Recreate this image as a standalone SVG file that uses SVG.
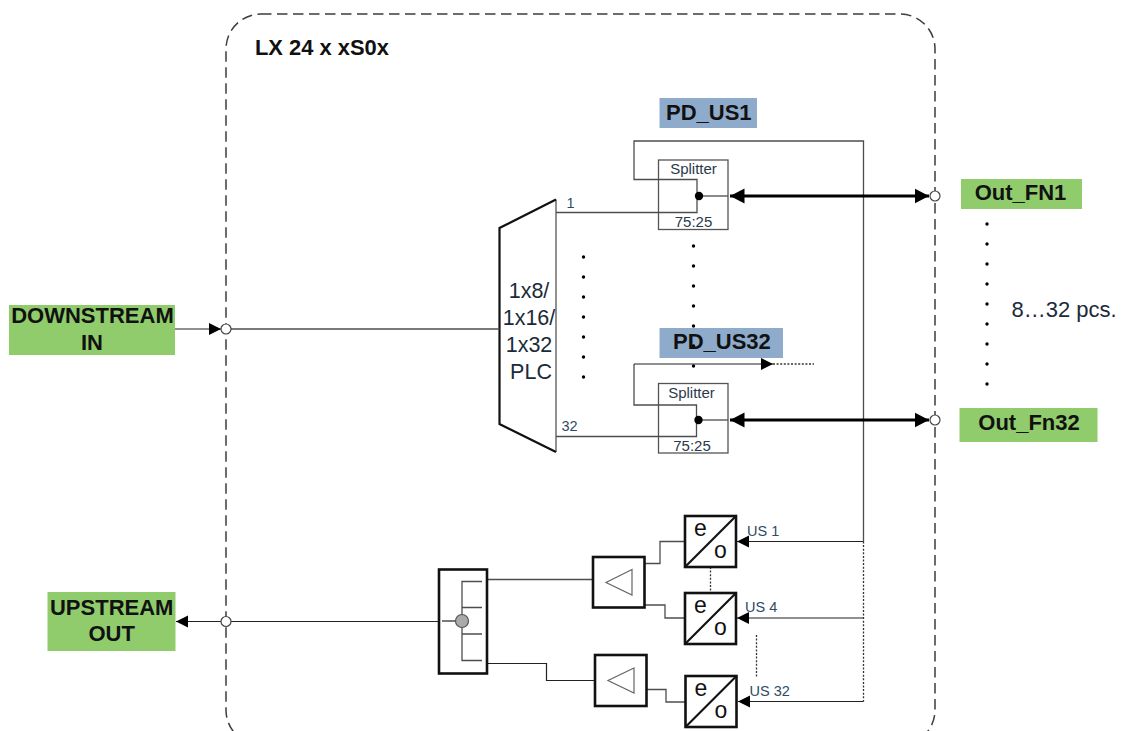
<svg xmlns="http://www.w3.org/2000/svg" width="1122" height="731" viewBox="0 0 1122 731">
<style>
text{font-family:"Liberation Sans",Arial,sans-serif;fill:#111}
.b{font-weight:bold;font-size:22px}
.m{text-anchor:middle}
.green{fill:#90cc6c}
.blue{fill:#8fabcb}
.s{font-size:15px;fill:#2a3a4c}
.u{font-size:14.5px;fill:#2f4a66}
.plc{font-size:21.5px;fill:#1a2a3a;text-anchor:middle}
.eo{font-size:23px;text-anchor:middle}
.thin{fill:none;stroke:#4d4d4d;stroke-width:1.3}
.dark{fill:none;stroke:#222;stroke-width:1.2}
.thick{fill:#fff;stroke:#111;stroke-width:2.6}
.box{fill:#fff;stroke:#555;stroke-width:1.3}
.dot{fill:none;stroke:#333;stroke-width:1.3;stroke-dasharray:2 1.6}
.port{fill:#fff;stroke:#444;stroke-width:1.2}
.bold{fill:none;stroke:#000;stroke-width:3.2;marker-start:url(#big);marker-end:url(#big)}
.arr{fill:none;stroke:#222;stroke-width:1.2;marker-end:url(#small)}
.pt{fill:#000}
</style>
<defs>
<marker id="big" markerUnits="userSpaceOnUse" markerWidth="15" markerHeight="16" refX="14.5" refY="8" orient="auto-start-reverse"><path d="M0 0.5L14.5 8L0 15.5Z" fill="#000"/></marker>
<marker id="small" markerUnits="userSpaceOnUse" markerWidth="13" markerHeight="14" refX="12" refY="6.5" orient="auto"><path d="M0 0.5L12 6.5L0 12.5Z" fill="#000"/></marker>
</defs>
<g id="enclosure">
<rect x="226" y="14" width="709" height="731" rx="35" ry="35" fill="none" stroke="#3d3d3d" stroke-width="1.5" stroke-dasharray="10.5 5.5"/>
<text class="b" x="255" y="55" style="font-size:21.9px">LX 24 x xS0x</text>
</g>
<g id="dots">
<g class="pt">
<circle cx="583.5" cy="257" r="1.7"/><circle cx="583.5" cy="277" r="1.7"/><circle cx="583.5" cy="297" r="1.7"/><circle cx="583.5" cy="317" r="1.7"/><circle cx="583.5" cy="337" r="1.7"/><circle cx="583.5" cy="357" r="1.7"/><circle cx="583.5" cy="377" r="1.7"/>
<circle cx="987" cy="224" r="1.7"/><circle cx="987" cy="244" r="1.7"/><circle cx="987" cy="264" r="1.7"/><circle cx="987" cy="284" r="1.7"/><circle cx="987" cy="304" r="1.7"/><circle cx="987" cy="324" r="1.7"/><circle cx="987" cy="344" r="1.7"/><circle cx="987" cy="364" r="1.7"/><circle cx="987" cy="384" r="1.7"/>
</g>
</g>
<g id="pd-us1">
<rect class="blue" x="659.5" y="98" width="97.5" height="30"/>
<text class="b" x="666" y="119.5">PD_US1</text>
</g>
<g id="pd-us32">
<rect class="blue" x="659.5" y="328" width="123.5" height="30"/>
<g class="pt"><circle cx="693.5" cy="246" r="1.7"/><circle cx="693.5" cy="266" r="1.7"/><circle cx="693.5" cy="286" r="1.7"/><circle cx="693.5" cy="306" r="1.7"/><circle cx="693.5" cy="326" r="1.7"/><circle cx="693.5" cy="346" r="1.7"/><circle cx="693.5" cy="366" r="1.7"/></g>
<text class="b" x="673" y="349">PD_US32</text>
</g>
<g id="splitter1">
<rect class="box" x="658.5" y="160" width="69.5" height="69.5"/>
<text class="s m" x="693.5" y="173.5">Splitter</text>
<text class="s m" x="693.5" y="227">75:25</text>
</g>
<g id="splitter32">
<rect class="box" x="658.5" y="383.5" width="69.5" height="69.5"/>
<text class="s m" x="691.5" y="398">Splitter</text>
<text class="s m" x="692" y="451">75:25</text>
</g>
<g id="plc">
<path d="M556 199.5V452" fill="none" stroke="#555" stroke-width="1.3"/>
<path d="M556 199.5L499.5 228V424L556 452" fill="none" stroke="#111" stroke-width="2.2"/>
<text class="plc" x="529" y="298">1x8/</text>
<text class="plc" x="529" y="325">1x16/</text>
<text class="plc" x="529" y="352">1x32</text>
<text class="plc" x="531" y="379">PLC</text>
<text class="u" x="566.5" y="208">1</text>
<text class="u" x="561.5" y="431">32</text>
</g>
<g id="connectors">
<path class="thin" d="M231 329H499.5"/>
<path class="thin" d="M556 212.5H697V179.5H634V141H863.5V541.5"/>
<path class="thin" d="M699 196H728"/>
<path class="thin" d="M556 436.5H696.5V405H634V364"/>
<path class="arr" d="M634 364H773"/>
<path class="dot" d="M773 364H814"/>
<path class="thin" d="M699 420H728"/>
<path class="bold" d="M730 196H929"/>
<path class="bold" d="M730 420H929"/>
<path class="arr" d="M175 329H221"/>
<path class="arr" d="M221 621.5H176"/>
<path class="dark" d="M231 621.5H440"/>
<path class="arr" d="M863.5 541.5H737"/>
<path class="arr" d="M863.5 618H737"/>
<path class="arr" d="M863.5 701.5H738"/>
<path class="dot" d="M863.5 541.5V701.5"/>
<path class="dot" d="M710.5 567V592.5"/>
<path class="dot" d="M756.5 635V677"/>
<path class="thin" d="M487 579.5H593"/>
<path class="dark" d="M487 663.5H546.5V680.5H595"/>
<path class="thin" d="M645 563.5H660V541.5H685"/>
<path class="thin" d="M645 605H665V618H685"/>
<path class="thin" d="M646.5 689.5H666V702H685.5"/>
</g>
<g id="splitter-junctions"><circle class="pt" cx="699" cy="196" r="4.2"/><circle class="pt" cx="698.5" cy="420" r="4.2"/></g>
<g id="downstream-in">
<rect class="green" x="9" y="305" width="166" height="50"/>
<text class="b m" x="92.5" y="323">DOWNSTREAM</text>
<text class="b m" x="92" y="349.5">IN</text>
</g>
<g id="upstream-out">
<rect class="green" x="47.5" y="592" width="128" height="59"/>
<text class="b m" x="111.7" y="615">UPSTREAM</text>
<text class="b m" x="111.7" y="641">OUT</text>
</g>
<g id="out-fn1">
<rect class="green" x="961" y="179" width="121" height="30"/>
<text class="b m" x="1020.5" y="199.5">Out_FN1</text>
</g>
<g id="out-fn32">
<rect class="green" x="959.5" y="408" width="138" height="34"/>
<text class="b m" x="1029" y="430">Out_Fn32</text>
</g>
<g id="count-label"><text x="1011.5" y="317" style="font-size:22px;fill:#1a2a3a">8…32 pcs.</text></g>
<g id="ports">
<circle class="port" cx="226" cy="329" r="5"/>
<circle class="port" cx="226" cy="621.5" r="5"/>
<circle class="port" cx="935" cy="196" r="5"/>
<circle class="port" cx="935" cy="420" r="5"/>
</g>
<g id="combiner">
<rect class="thick" x="439" y="569.5" width="48" height="104"/>
<path class="thin" d="M442 621H462M482 581.5H462V660.5H482M462 607.5H482M462 634H482"/>
<circle cx="462" cy="621" r="6.5" fill="#aaa" stroke="#555" stroke-width="1.2"/>
</g>
<g id="amp1">
<rect class="thick" x="593" y="557" width="51.5" height="50.5"/>
<path d="M632 569.5L606 582.5L632 595Z" fill="none" stroke="#666" stroke-width="1.2"/>
</g>
<g id="amp2">
<rect class="thick" x="595" y="655" width="51.5" height="51"/>
<path d="M634 668L608 680.5L634 693Z" fill="none" stroke="#666" stroke-width="1.2"/>
</g>
<g id="eo1">
<rect class="thick" x="685" y="516" width="51" height="51"/>
<path d="M685 567L736 516" stroke="#111" stroke-width="2.2"/>
<text class="eo" x="700.5" y="536">e</text><text class="eo" x="720.5" y="557.5">o</text>
<text class="u" x="747" y="536">US 1</text>
</g>
<g id="eo4">
<rect class="thick" x="685" y="593" width="51" height="51"/>
<path d="M685 644L736 593" stroke="#111" stroke-width="2.2"/>
<text class="eo" x="700.5" y="613">e</text><text class="eo" x="720.5" y="634.5">o</text>
<text class="u" x="745" y="612">US 4</text>
</g>
<g id="eo32">
<rect class="thick" x="685.5" y="676" width="51" height="51"/>
<path d="M685.5 727L736.5 676" stroke="#111" stroke-width="2.2"/>
<text class="eo" x="701" y="696">e</text><text class="eo" x="721" y="717.5">o</text>
<text class="u" x="749.5" y="696">US 32</text>
</g>
</svg>
